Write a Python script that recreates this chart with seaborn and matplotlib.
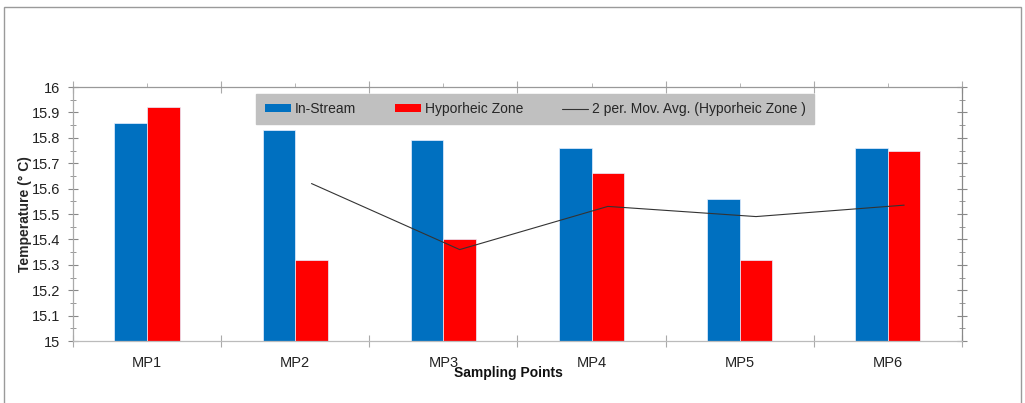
import numpy as np
import pandas as pd
import matplotlib
matplotlib.use("Agg")
import matplotlib.pyplot as plt
from matplotlib.lines import Line2D
from matplotlib.patches import Patch, Rectangle
from matplotlib.ticker import MultipleLocator, FixedLocator
import seaborn as sns

# Données
points = ["MP1", "MP2", "MP3", "MP4", "MP5", "MP6"]
in_stream = [15.86, 15.83, 15.79, 15.76, 15.56, 15.76]
hyporheic = [15.92, 15.32, 15.40, 15.66, 15.32, 15.75]
series_names = ["In-Stream", "Hyporheic Zone"]
colors = ["#0070C0", "#FF0000"]

df = pd.DataFrame({
    "point": points * 2,
    "serie": [series_names[0]] * 6 + [series_names[1]] * 6,
    "temp": in_stream + hyporheic,
})
# moyenne mobile sur 2 périodes (zone hyporhéique)
mov_avg = pd.Series(hyporheic).rolling(2).mean()

sns.set_theme(style="white")
plt.rcParams["font.family"] = ["Liberation Sans", "DejaVu Sans"]

fig = plt.figure(figsize=(10.25, 4.03), dpi=100)
ax = fig.add_axes([0.0712, 0.1538, 0.8673, 0.6302])

# cadre extérieur
fig.patches.append(Rectangle((0.004, -0.05), 0.992, 1.032, transform=fig.transFigure,
                             fill=False, edgecolor="#9a9a9a", linewidth=1.0))

sns.barplot(data=df, x="point", y="temp", hue="serie", palette=colors,
            saturation=1, width=0.44, linewidth=0, ax=ax, legend=False)
for bar in ax.patches:
    bar.set_edgecolor("#e8f0ff")
    bar.set_linewidth(0.5)

x = np.arange(len(points)) + 0.11
ax.plot(x[1:], mov_avg[1:], color="#333333", linewidth=0.8)

yt = np.round(np.arange(15, 16.01, 0.1), 2)
ax.set_ylim(15, 16)
ax.set_xlim(-0.5, 5.5)
ax.set_yticks(yt)
ax.set_yticklabels([f"{v:g}" for v in yt])
ax.yaxis.set_minor_locator(MultipleLocator(0.05))

ax.xaxis.set_major_locator(FixedLocator(np.arange(-0.5, 6, 1)))
ax.xaxis.set_minor_locator(FixedLocator(np.arange(0, 6)))
ax.set_xticklabels([])
ax.set_xticklabels(points, minor=True)

ax.tick_params(axis="y", which="both", left=True, right=True, direction="inout",
               colors="#888888", labelcolor="#222222", labelsize=10.5, pad=6)
ax.tick_params(axis="y", which="major", length=7, width=0.8)
ax.tick_params(axis="y", which="minor", length=4, width=0.6)
ax.tick_params(axis="x", which="major", bottom=True, top=True, direction="inout",
               length=8, width=0.8, colors="#aaaaaa")
ax.tick_params(axis="x", which="minor", bottom=False, top=True, direction="out",
               length=3, width=0.6, colors="#aaaaaa", labelcolor="#222222",
               labelsize=10.5, pad=8)

for side in ["left", "right", "top", "bottom"]:
    ax.spines[side].set_visible(True)
    ax.spines[side].set_linewidth(0.9)
ax.spines["left"].set_color("#aaaaaa")
ax.spines["right"].set_color("#888888")
ax.spines["top"].set_color("#999999")
ax.spines["bottom"].set_color("#bbbbbb")

ax.set_ylabel("Temperature (° C)", fontsize=10, fontweight="bold")
ax.yaxis.set_label_coords(-0.046, 0.5)
ax.set_xlabel("")
ax.text(0.49, -0.125, "Sampling Points", transform=ax.transAxes, ha="center",
        va="center", fontsize=10, fontweight="bold", color="#111111")

handles = [Patch(facecolor=colors[0], edgecolor="none"),
           Patch(facecolor=colors[1], edgecolor="none"),
           Line2D([0], [0], color="#333333", linewidth=0.8)]
labels = series_names + ["2 per. Mov. Avg. (Hyporheic Zone )"]
leg = ax.legend(handles, labels, ncol=3, loc="center", bbox_to_anchor=(0.520, 0.913),
                frameon=True, fancybox=False, fontsize=10, handlelength=1.9,
                handleheight=0.55, handletextpad=0.25, columnspacing=2.8,
                borderpad=0.6, borderaxespad=0)
leg.get_frame().set_facecolor("#c0c0c0")
leg.get_frame().set_edgecolor("#c0c0c0")
leg.get_frame().set_alpha(1)

fig.savefig("out.png", dpi=100)
